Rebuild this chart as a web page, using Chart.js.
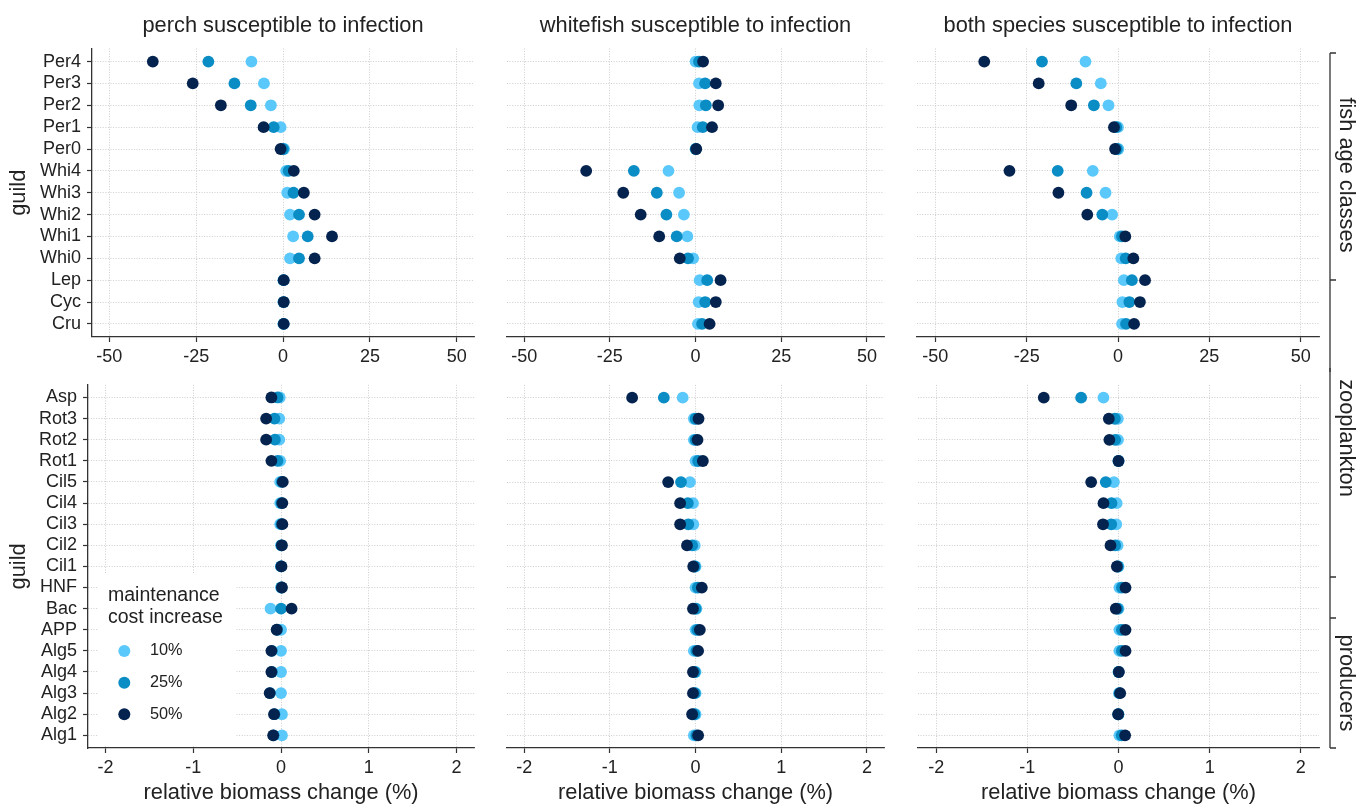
<!DOCTYPE html>
<html><head><meta charset="utf-8">
<script src="https://cdn.jsdelivr.net/npm/chart.js@4.4.1/dist/chart.umd.min.js"></script>
<style>
html,body{margin:0;padding:0;background:#fff;}
body{width:1359px;height:805px;position:relative;overflow:hidden;}
canvas{position:absolute;display:block;}
</style></head><body>
<canvas id="p11" width="480" height="372" style="left:0;top:0"></canvas>
<canvas id="p12" width="400" height="372" style="left:490px;top:0"></canvas>
<canvas id="p13" width="459" height="372" style="left:900px;top:0"></canvas>
<canvas id="p21" width="480" height="437" style="left:0;top:368px"></canvas>
<canvas id="p22" width="400" height="437" style="left:490px;top:368px"></canvas>
<canvas id="p23" width="459" height="437" style="left:900px;top:368px"></canvas>
<script>
// ---------- data ----------
const fishGuilds = ['Per4','Per3','Per2','Per1','Per0','Whi4','Whi3','Whi2','Whi1','Whi0','Lep','Cyc','Cru'];
const planktonGuilds = ['Asp','Rot3','Rot2','Rot1','Cil5','Cil4','Cil3','Cil2','Cil1','HNF','Bac','APP','Alg5','Alg4','Alg3','Alg2','Alg1'];
const costLevels = ['10%','25%','50%'];
const panelTitles = ['perch susceptible to infection','whitefish susceptible to infection','both species susceptible to infection'];
const groupLabels = ['fish age classes','zooplankton','producers'];
const legendTitle = ['maintenance','cost increase'];
const xTitle = 'relative biomass change (%)';
const yTitle = 'guild';
const fishTicks = [-50,-25,0,25,50];
const planktonTicks = [-2,-1,0,1,2];

// fish panels (perch / whitefish / both), series 10%, 25%, 50%
const perchFish10 = [-9.1,-5.5,-3.5,-0.7,0.3,0.9,1.2,2.0,2.9,2.0,0.1,0.1,0.1];
const perchFish25 = [-21.5,-14.0,-9.3,-2.7,0.0,1.6,3.0,4.6,7.1,4.6,0.15,0.15,0.15];
const perchFish50 = [-37.5,-26.0,-17.9,-5.6,-0.7,3.1,6.0,9.1,14.1,9.1,0.2,0.2,0.2];
const whiteFish10 = [0.0,1.0,1.1,0.6,0.0,-7.9,-4.8,-3.4,-2.4,-0.7,1.2,0.9,0.7];
const whiteFish25 = [1.0,2.8,3.0,2.1,0.1,-18.0,-11.3,-8.5,-5.5,-2.2,3.4,2.8,1.9];
const whiteFish50 = [2.2,5.9,6.6,4.8,0.2,-31.9,-21.1,-16.0,-10.6,-4.6,7.3,5.9,4.1];
const bothFish10 = [-8.9,-4.7,-2.6,0.0,0.1,-6.9,-3.4,-1.6,0.5,0.9,1.6,1.2,1.1];
const bothFish25 = [-20.8,-11.4,-6.6,-0.5,-0.3,-16.5,-8.6,-4.3,1.1,2.1,3.8,3.1,2.2];
const bothFish50 = [-36.6,-21.7,-12.8,-1.1,-0.8,-29.7,-16.3,-8.4,2.0,4.2,7.4,6.0,4.4];

// plankton panels
const perchPlank10 = [-0.015,-0.02,-0.02,-0.01,-0.01,-0.01,-0.01,0.0,0.0,0.0,-0.12,0.0,0.0,0.0,0.0,0.01,0.01];
const perchPlank25 = [-0.04,-0.075,-0.07,-0.04,0.01,0.005,0.005,0.005,0.0,0.005,0.0,-0.045,-0.105,-0.105,-0.125,-0.075,-0.085];
const perchPlank50 = [-0.11,-0.17,-0.17,-0.11,0.02,0.015,0.015,0.01,0.005,0.01,0.12,-0.05,-0.11,-0.11,-0.13,-0.08,-0.09];
const whitePlank10 = [-0.15,-0.02,-0.02,0.0,-0.065,-0.03,-0.027,-0.01,0.0,0.0,0.01,0.0,-0.02,0.0,0.0,0.0,-0.02];
const whitePlank25 = [-0.37,0.0,0.0,0.03,-0.17,-0.09,-0.085,-0.04,-0.01,0.027,0.0,0.02,0.01,-0.01,-0.01,-0.015,0.01];
const whitePlank50 = [-0.74,0.035,0.023,0.085,-0.32,-0.18,-0.18,-0.1,-0.027,0.073,-0.03,0.05,0.03,-0.03,-0.03,-0.04,0.03];
const bothPlank10 = [-0.165,-0.007,-0.005,0.0,-0.05,-0.02,-0.025,-0.01,0.0,0.01,0.0,0.01,0.01,0.0,0.005,0.0,0.01];
const bothPlank25 = [-0.41,-0.04,-0.037,0.0,-0.14,-0.077,-0.08,-0.037,-0.008,0.037,-0.01,0.037,0.037,0.002,0.012,-0.002,0.035];
const bothPlank50 = [-0.82,-0.106,-0.1,0.0,-0.30,-0.165,-0.17,-0.088,-0.018,0.077,-0.03,0.077,0.077,0.004,0.018,-0.004,0.073];

// ---------- style ----------
const colors = ['#5AC8FA','#0A8CC4','#04234F'];
const FONT = "'Liberation Sans', Arial, Helvetica, sans-serif";
const TXT = '#222222';
const AXIS = '#333333';
const GRID = '#c2c2c2';
Chart.defaults.font.family = FONT;
Chart.defaults.color = TXT;

const stripPlugin = {
  id: 'strip',
  afterDraw(chart, args, o) {
    if (!o.items) return;
    const ctx = chart.ctx;
    ctx.save();
    ctx.strokeStyle = AXIS; ctx.lineWidth = 1.3;
    ctx.beginPath();
    ctx.moveTo(o.lineX, o.lineTop); ctx.lineTo(o.lineX, o.lineBottom);
    o.ticks.forEach(t => { ctx.moveTo(o.lineX, t); ctx.lineTo(o.lineX + 6, t); });
    ctx.stroke();
    ctx.fillStyle = TXT;
    ctx.font = "21.8px " + FONT;
    ctx.textAlign = 'center'; ctx.textBaseline = 'middle';
    o.items.forEach(it => {
      ctx.save(); ctx.translate(o.textX, it.y); ctx.rotate(Math.PI / 2);
      ctx.fillText(it.text, 0, 0); ctx.restore();
    });
    ctx.restore();
  }
};

const legendPlugin = {
  id: 'boxLegend',
  afterDraw(chart, args, o) {
    if (!o.show) return;
    const ctx = chart.ctx;
    ctx.save();
    ctx.fillStyle = '#ffffff';
    ctx.fillRect(98, 205, 137, 173);
    ctx.fillStyle = TXT;
    ctx.textAlign = 'left'; ctx.textBaseline = 'middle';
    ctx.font = "19.5px " + FONT;
    legendTitle.forEach((t, i) => ctx.fillText(t, 108, 228 + i * 22));
    ctx.font = "16.3px " + FONT;
    chart.data.datasets.forEach((ds, i) => {
      const y = 283 + i * 31.65;
      ctx.fillStyle = ds.backgroundColor;
      ctx.beginPath(); ctx.arc(124.3, y, 6, 0, Math.PI * 2); ctx.fill();
      ctx.fillStyle = TXT;
      ctx.fillText(ds.label, 150, y);
    });
    ctx.restore();
  }
};

function makePanel(id, cfg) {
  const n = cfg.guilds.length;
  return new Chart(document.getElementById(id), {
    type: 'scatter',
    data: {
      datasets: cfg.series.map((arr, k) => ({
        label: costLevels[k],
        data: arr.map((v, i) => ({ x: v, y: i })),
        backgroundColor: colors[k],
        borderWidth: 0,
        pointRadius: 5.9,
        pointHoverRadius: 5.9,
        order: 3 - k
      }))
    },
    options: {
      responsive: false,
      animation: false,
      events: [],
      layout: { padding: cfg.pad },
      plugins: {
        legend: { display: false },
        tooltip: { enabled: false },
        title: {
          display: !!cfg.title, text: cfg.title || '', fullSize: false,
          font: { size: 21.8, weight: 'normal' }, color: TXT,
          padding: { top: 13.4, bottom: 8.9 }
        },
        strip: cfg.strip || {},
        boxLegend: { show: !!cfg.legend }
      },
      scales: {
        x: {
          type: 'linear', min: cfg.xMin, max: cfg.xMax,
          afterBuildTicks: s => { s.ticks = cfg.xTicks.map(v => ({ value: v })); },
          ticks: { autoSkip: false, maxRotation: 0, padding: 4.3, font: { size: 18 }, color: TXT, callback: v => String(v) },
          grid: { color: GRID, lineWidth: 0.8, drawTicks: true, tickLength: 5, tickColor: AXIS, tickWidth: 1.2, tickBorderDash: [] },
          border: { display: true, color: AXIS, width: 1.3, dash: [1, 1.6] },
          title: { display: !!cfg.xTitle, text: xTitle, font: { size: 21.8, lineHeight: 1.06 }, color: TXT, padding: { top: 0, bottom: 0 } },
          afterFit: s => { s.height = cfg.xHeight; }
        },
        y: {
          type: 'linear', reverse: true, min: -0.6, max: n - 0.4,
          afterBuildTicks: s => { s.ticks = cfg.guilds.map((g, i) => ({ value: i })); },
          ticks: { display: cfg.showY, autoSkip: false, padding: 6, font: { size: 18 }, color: TXT, callback: v => cfg.guilds[v] },
          grid: { color: GRID, lineWidth: 0.8, drawTicks: cfg.showY, tickLength: 5, tickColor: AXIS, tickWidth: 1.2, tickBorderDash: [] },
          border: { display: cfg.showY, color: AXIS, width: 1.3, dash: [1, 1.6] },
          title: { display: cfg.showY, text: yTitle, font: { size: 21.8 }, color: TXT, padding: { top: 6.4, bottom: 0 } },
          afterFit: s => { s.width = cfg.yWidth; }
        }
      }
    },
    plugins: [stripPlugin, legendPlugin]
  });
}

const fishX = { xMin: -55, xMax: 55, xTicks: fishTicks, xHeight: 35 };
const plankX = { xMin: -2.2, xMax: 2.2, xTicks: planktonTicks, xHeight: 57, xTitle: true };

makePanel('p11', Object.assign({ guilds: fishGuilds, series: [perchFish10, perchFish25, perchFish50], title: panelTitles[0], showY: true, yWidth: 92, pad: { left: 0, right: 4, top: 0, bottom: 0 } }, fishX));
makePanel('p12', Object.assign({ guilds: fishGuilds, series: [whiteFish10, whiteFish25, whiteFish50], title: panelTitles[1], showY: false, yWidth: 0, pad: { left: 17, right: 1, top: 0, bottom: 0 } }, fishX));
makePanel('p13', Object.assign({ guilds: fishGuilds, series: [bothFish10, bothFish25, bothFish50], title: panelTitles[2], showY: false, yWidth: 0, pad: { left: 17, right: 40, top: 0, bottom: 0 },
  strip: { lineX: 430, lineTop: 53, lineBottom: 372, ticks: [53, 280], textX: 446, items: [{ text: groupLabels[0], y: 175 }] } }, fishX));
makePanel('p21', Object.assign({ guilds: planktonGuilds, series: [perchPlank10, perchPlank25, perchPlank50], showY: true, yWidth: 88, legend: true, pad: { left: 0, right: 3, top: 0, bottom: 0 } }, plankX));
makePanel('p22', Object.assign({ guilds: planktonGuilds, series: [whitePlank10, whitePlank25, whitePlank50], showY: false, yWidth: 0, pad: { left: 17, right: 2, top: 17, bottom: 0 } }, plankX));
makePanel('p23', Object.assign({ guilds: planktonGuilds, series: [bothPlank10, bothPlank25, bothPlank50], showY: false, yWidth: 0, pad: { left: 18, right: 40, top: 17, bottom: 0 },
  strip: { lineX: 430, lineTop: 0, lineBottom: 380, ticks: [209, 250, 380], textX: 446, items: [{ text: groupLabels[1], y: 70 }, { text: groupLabels[2], y: 315 }] } }, plankX));
</script>
</body></html>
